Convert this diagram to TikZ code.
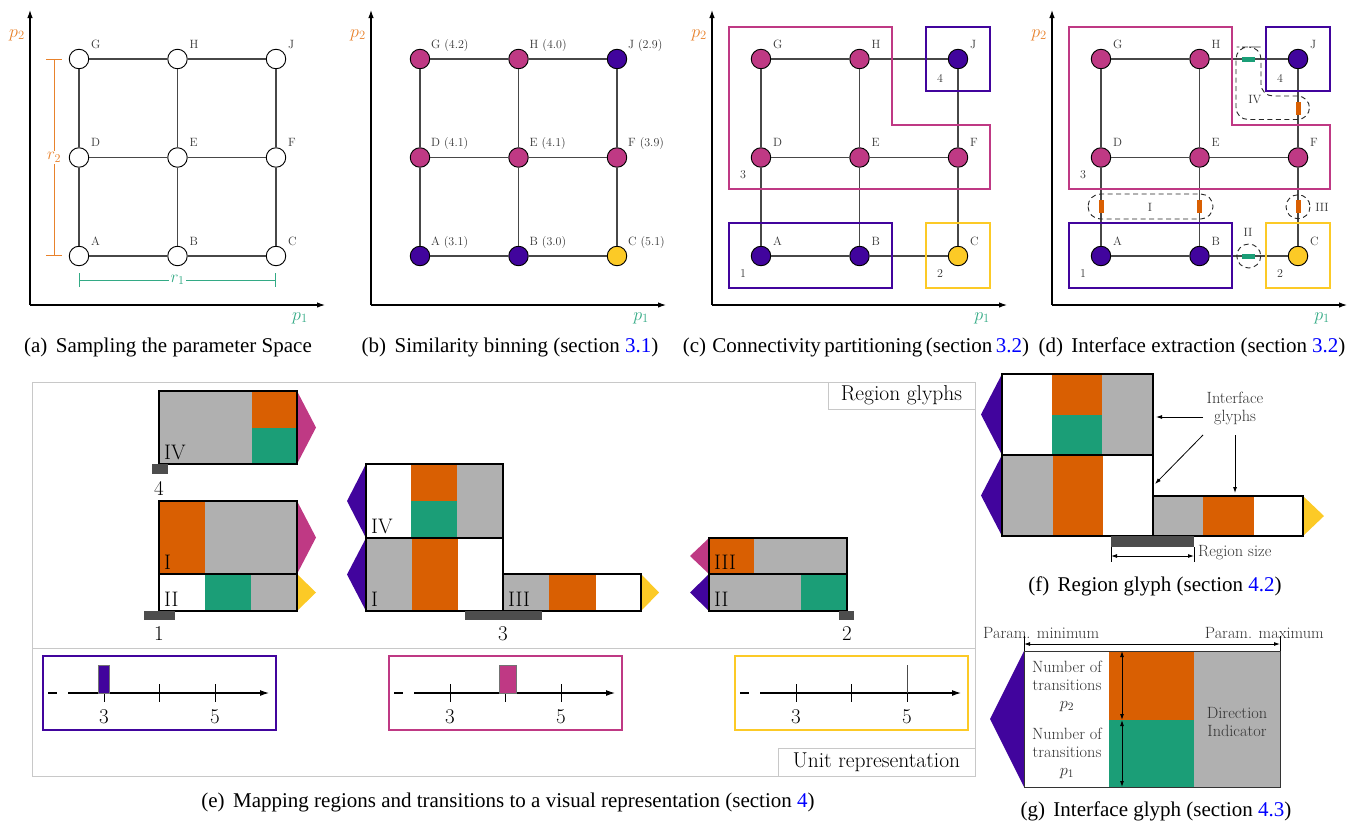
\RequirePackage{fix-cm}
\documentclass[tikz,border=0pt]{standalone}
\usepackage{fontspec}
\newfontfamily\capfont{Liberation Serif}
\usetikzlibrary{arrows.meta,calc}

\definecolor{cpur}{HTML}{41049D}
\definecolor{cmag}{HTML}{BF3984}
\definecolor{cyel}{HTML}{FCCA26}
\definecolor{corange}{HTML}{D95F02}
\definecolor{cgreen}{HTML}{1B9E77}
\definecolor{cgray}{HTML}{B0B0B0}
\definecolor{cbar}{HTML}{4D4D4D}
\definecolor{cframe}{HTML}{C8C8C8}
\definecolor{ctext}{HTML}{333333}
\definecolor{caxo}{HTML}{E8822C}
\definecolor{caxg}{HTML}{33AA85}

\begin{document}
\begin{tikzpicture}[x=1pt,y=-1pt,
  axisarrow/.style={line width=1.1pt,-{Latex[length=8pt,width=5.5pt]}},
  gnode/.style={circle,draw=black,line width=0.95pt,minimum size=19.5pt,inner sep=0pt},
  gedge/.style={draw=black!72,line width=1.2pt},
  nlab/.style={anchor=base west,inner sep=0pt,text=ctext,font=\fontsize{12}{14}\selectfont},
  axlab/.style={inner sep=0pt,font=\fontsize{18}{20}\selectfont},
  dimline/.style={line width=1pt},
  regbox/.style={line width=2pt},
  rlab/.style={inner sep=0pt,text=ctext,font=\fontsize{12}{14}\selectfont},
  tgh/.style={fill=cgreen,minimum width=13pt,minimum height=5pt,inner sep=0pt},
  tgv/.style={fill=corange,minimum width=5pt,minimum height=13pt,inner sep=0pt},
  ifdash/.style={draw=black!85,line width=0.9pt,dash pattern=on 5pt off 3.5pt},
  captxt/.style={anchor=base,inner sep=0pt,font=\capfont\fontsize{21}{25}\selectfont},
  gout/.style={draw=black,line width=1.8pt},
  fout/.style={draw=black,line width=1.3pt},
  glab/.style={anchor=base west,inner sep=0pt,font=\fontsize{21}{25}\selectfont},
  rnum/.style={inner sep=0pt,font=\fontsize{21}{25}\selectfont},
  sizebar/.style={fill=cbar},
  eframe/.style={draw=cframe,line width=1pt},
  tagbox/.style={draw=cframe,line width=1pt,fill=white,inner sep=0pt,font=\fontsize{21.5}{25}\selectfont},
  unitbox/.style={line width=1.9pt},
  uaxis/.style={line width=1.1pt},
  utick/.style={line width=0.6pt},
  ftext/.style={inner sep=0pt,text=ctext,font=\fontsize{16.3}{18}\selectfont},
  dimarrow/.style={line width=0.9pt,{Latex[length=6pt,width=4pt]}-{Latex[length=6pt,width=4pt]}},
  callarrow/.style={line width=0.8pt,-{Latex[length=6pt,width=4pt]}}
]
\useasboundingbox (0,0) rectangle (1359,823);

% ---------- panels (a)-(d): sampled parameter grids ----------
\foreach \pn/\x/\m in {a/30/1,b/371/2,c/712/3,d/1052/3}{
  \coordinate (\pn O) at (\x,305);
  \coordinate (\pn Y) at (\x,10);
  \coordinate (\pn X) at ({\x+295},305);
  \draw[axisarrow] (\pn O) -- (\pn Y);
  \draw[axisarrow] (\pn O) -- (\pn X);
  \node[axlab,text=caxo] (\pn ly) at ({\x-13},35) {$p_2$};
  \node[axlab,text=caxg] (\pn lx) at ({\x+270},318) {$p_1$};
  \foreach \n/\i/\j/\cl/\val in {A/0/0/cpur/3.1,B/1/0/cpur/3.0,C/2/0/cyel/5.1,
                                D/0/1/cmag/4.1,E/1/1/cmag/4.1,F/2/1/cmag/3.9,
                                G/0/2/cmag/4.2,H/1/2/cmag/4.0,J/2/2/cpur/2.9}{
    \ifnum\m=1 \def\fc{white}\else\edef\fc{\cl}\fi
    \node[gnode,fill=\fc] (\pn\n) at ({\x+49+98.5*\i},{256-98.5*\j}) {};
    \ifnum\m=2
      \node[nlab] (\pn\n l) at ({\x+60+98.5*\i},{245-98.5*\j}) {\n\ (\val)};
    \else
      \node[nlab] (\pn\n l) at ({\x+61+98.5*\i},{245-98.5*\j}) {\n};
    \fi
  }
  \foreach \s/\t in {A/B,B/C,D/E,E/F,G/H,H/J,A/D,D/G,B/E,E/H,C/F,F/J}
    \draw[gedge] (\pn\s) -- (\pn\t);
}

% sampling resolution r1, r2
\coordinate (r2t) at (54,59);
\coordinate (r2b) at (54,256);
\draw[dimline,draw=caxo,{Bar[width=16pt]}-{Bar[width=16pt]}] (r2t) -- (r2b)
  node[midway,fill=white,inner sep=2pt,text=caxo,font=\fontsize{17}{20}\selectfont] (r2l) {$r_2$};
\coordinate (r1l) at (79,280);
\coordinate (r1r) at (276,280);
\draw[dimline,draw=caxg,{Bar[width=14pt]}-{Bar[width=14pt]}] (r1l) -- (r1r)
  node[midway,fill=white,inner sep=2pt,text=caxg,font=\fontsize{17}{20}\selectfont] (r1t) {$r_1$};

% connected regions in (c) and (d)
\foreach \pn/\x in {c/712,d/1052}{
  \draw[regbox,draw=cmag] ({\x+16.5},27) -- ({\x+179.5},27) -- ({\x+179.5},125)
     -- ({\x+277.5},125) -- ({\x+277.5},189) -- ({\x+16.5},189) -- cycle;
  \draw[regbox,draw=cpur] ({\x+213.5},27) rectangle ({\x+277.5},91);
  \draw[regbox,draw=cpur] ({\x+16.5},223) rectangle ({\x+179.5},288);
  \draw[regbox,draw=cyel] ({\x+213.5},223) rectangle ({\x+277.5},288);
  \node[rlab] (\pn r3) at ({\x+31},175) {3};
  \node[rlab] (\pn r4) at ({\x+228},78) {4};
  \node[rlab] (\pn r1) at ({\x+31},274) {1};
  \node[rlab] (\pn r2) at ({\x+228},274) {2};
}

% interfaces in (d)
\node[tgh] (dgHJ) at ($(dH)!0.5!(dJ)$) {};
\node[tgh] (dgBC) at ($(dB)!0.5!(dC)$) {};
\node[tgv] (dgJF) at ($(dJ)!0.5!(dF)$) {};
\node[tgv] (dgDA) at ($(dD)!0.5!(dA)$) {};
\node[tgv] (dgEB) at ($(dE)!0.5!(dB)$) {};
\node[tgv] (dgFC) at ($(dF)!0.5!(dC)$) {};
\draw[ifdash,rounded corners=12] (1248.5,47) -- (1261,47) -- (1261,96) -- (1309.5,96)
   -- (1309.5,119.5) -- (1236,119.5) -- (1236,47) -- cycle;
\draw[ifdash,rounded corners=12.5] (1088,194) rectangle (1213,219);
\draw[ifdash] (dgFC.center) circle[radius=12];
\draw[ifdash] (dgBC.center) circle[radius=12];
\node[rlab] (lIV) at (1255,100) {IV};
\node[rlab] (lI) at (1150,207) {I};
\node[rlab] (lII) at (1248,232) {II};
\node[rlab] (lIII) at (1322,207) {III};

% captions of the top row
\node[captxt] (capa) at (168,352) {(a)\hspace{0.4em}Sampling the parameter Space};
\node[captxt] (capb) at (510,352) {(b)\hspace{0.4em}Similarity binning (section \textcolor{blue}{3.1})};
\node[captxt] (capc) at (856,352) {\spaceskip=3.5pt\relax(c)\hspace{0.3em}Connectivity partitioning (section \textcolor{blue}{3.2})};
\node[captxt] (capd) at (1192,352) {(d)\hspace{0.4em}Interface extraction (section \textcolor{blue}{3.2})};

% ---------- panel (e): region glyphs and unit representation ----------
\draw[eframe] (32,382) rectangle (975,776);
\draw[eframe] (32,648) -- (975,648);
\node[tagbox,minimum width=147pt,minimum height=27pt] (tagR) at (901.5,395.5) {Region glyphs};
\node[tagbox,minimum width=197pt,minimum height=28pt] (tagU) at (876.5,762) {Unit representation};

% region 4
\fill[cgray] (159,391) rectangle (252,464);
\fill[corange] (252,391) rectangle (297,428);
\fill[cgreen] (252,428) rectangle (297,464);
\fill[cmag] (297,391) -- (316,427.5) -- (297,464) -- cycle;
\draw[gout] (159,391) rectangle (297,464);
\node[glab] (g4a) at (164,459) {IV};
\fill[sizebar] (152,464) rectangle (168,474);
\node[rnum] (n4) at (159,488) {4};

% region 1
\fill[corange] (159,501) rectangle (205,574);
\fill[cgray] (205,501) rectangle (297,574);
\fill[cmag] (297,501) -- (316,537.5) -- (297,574) -- cycle;
\draw[gout] (159,501) rectangle (297,574);
\node[glab] (g1a) at (164,569) {I};
\fill[cgreen] (205,574) rectangle (251,611);
\fill[cgray] (251,574) rectangle (297,611);
\fill[cyel] (297,574) -- (316,592.5) -- (297,611) -- cycle;
\draw[gout] (159,574) rectangle (297,611);
\node[glab] (g1b) at (164,606) {II};
\fill[sizebar] (144,611) rectangle (175,620);
\node[rnum] (n1) at (159,634) {1};

% region 3
\fill[corange] (411,464) rectangle (457,501);
\fill[cgreen] (411,501) rectangle (457,538);
\fill[cgray] (457,464) rectangle (503,538);
\fill[cpur] (366,464) -- (347,501) -- (366,538) -- cycle;
\draw[gout] (366,464) rectangle (503,538);
\node[glab] (g3a) at (371,533) {IV};
\fill[cgray] (366,538) rectangle (412,611);
\fill[corange] (412,538) rectangle (458,611);
\fill[cpur] (366,538) -- (347,574.5) -- (366,611) -- cycle;
\draw[gout] (366,538) rectangle (503,611);
\node[glab] (g3b) at (371,606) {I};
\fill[cgray] (503,574) rectangle (549,611);
\fill[corange] (549,574) rectangle (596,611);
\fill[cyel] (641,574) -- (659,592.5) -- (641,611) -- cycle;
\draw[gout] (503,574) rectangle (641,611);
\node[glab] (g3c) at (508,606) {III};
\fill[sizebar] (465,611) rectangle (542,620);
\node[rnum] (n3) at (503,634) {3};

% region 2
\fill[corange] (709,538) rectangle (754,574);
\fill[cgray] (754,538) rectangle (847,574);
\fill[cmag] (709,538) -- (690,556) -- (709,574) -- cycle;
\draw[gout] (709,538) rectangle (847,574);
\node[glab] (g2a) at (714,569) {III};
\fill[cgray] (709,574) rectangle (801,611);
\fill[cgreen] (801,574) rectangle (847,611);
\fill[cpur] (709,574) -- (690,592.5) -- (709,611) -- cycle;
\draw[gout] (709,574) rectangle (847,611);
\node[glab] (g2b) at (714,606) {II};
\fill[sizebar] (839,611) rectangle (854,620);
\node[rnum] (n2) at (847,634) {2};

% unit representation of the three value ranges
\foreach \L/\col in {43/cpur,389/cmag,735/cyel}{
  \draw[unitbox,draw=\col] (\L,656) rectangle ({\L+233},730);
  \draw[uaxis] ({\L+5},693) -- ({\L+14},693);
  \draw[uaxis,-{Latex[length=9pt,width=6pt]}] ({\L+25},693) -- ({\L+226},693);
  \foreach \t in {61,116.5,172}
    \draw[utick] ({\L+\t},684) -- ({\L+\t},702);
  \node[rnum] at ({\L+61},717) {3};
  \node[rnum] at ({\L+172},717) {5};
}
\filldraw[fill=cpur,draw=black!55,line width=0.5pt] (98.5,665) rectangle (109.5,693);
\filldraw[fill=cmag,draw=black!55,line width=0.5pt] (499.5,665) rectangle (516,693);
\draw[line width=0.8pt,draw=black!70] (907.5,665) -- (907.5,693);

\node[captxt] (cape) at (508,807) {(e)\hspace{0.4em}Mapping regions and transitions to a visual representation (section \textcolor{blue}{4})};

% ---------- panel (f): region glyph ----------
\fill[corange] (1052,374) rectangle (1102,415);
\fill[cgreen] (1052,415) rectangle (1102,455);
\fill[cgray] (1102,374) rectangle (1153,455);
\fill[cpur] (1002,374) -- (981,414.5) -- (1002,455) -- cycle;
\draw[fout] (1002,374) rectangle (1153,455);
\fill[cgray] (1002,455) rectangle (1053,536);
\fill[corange] (1053,455) rectangle (1103,536);
\fill[cpur] (1002,455) -- (981,495.5) -- (1002,536) -- cycle;
\draw[fout] (1002,455) rectangle (1153,536);
\fill[cgray] (1153,496) rectangle (1203,536);
\fill[corange] (1203,496) rectangle (1254,536);
\fill[cyel] (1303,496) -- (1324,516) -- (1303,536) -- cycle;
\draw[fout] (1153,496) rectangle (1303,536);
\fill[sizebar] (1111,536) rectangle (1194,547);
\draw[line width=0.6pt] (1111,547) -- (1111,562);
\draw[line width=0.6pt] (1194,547) -- (1194,562);
\coordinate (rsl) at (1111,556);
\coordinate (rsr) at (1194,556);
\draw[dimarrow] (rsl) -- (rsr);
\node[ftext,anchor=west] (rsize) at (1198,553) {Region size};
\node[ftext,align=center] (ig) at (1235,408) {Interface\\glyphs};
\coordinate (igA) at (1203,417);
\coordinate (igB) at (1203,435);
\coordinate (igC) at (1235,435);
\coordinate (tA) at (1156,417);
\coordinate (tB) at (1155,484);
\coordinate (tC) at (1235,493);
\draw[callarrow] (igA) -- (tA);
\draw[callarrow] (igB) -- (tB);
\draw[callarrow] (igC) -- (tC);
\node[captxt] (capf) at (1155,591) {(f)\hspace{0.4em}Region glyph (section \textcolor{blue}{4.2})};

% ---------- panel (g): interface glyph ----------
\node[ftext,anchor=base west] (pmin) at (983,638) {Param. minimum};
\node[ftext,anchor=base east] (pmax) at (1324,638) {Param. maximum};
\fill[white] (1024,651) rectangle (1109,787);
\fill[corange] (1109,651) rectangle (1194,720);
\fill[cgreen] (1109,720) rectangle (1194,787);
\fill[cgray] (1194,651) rectangle (1280,787);
\fill[cpur] (1024,651) -- (990,719) -- (1024,787) -- cycle;
\draw[line width=1pt,draw=black!80] (1024,651) rectangle (1280,787);
\draw[line width=0.6pt] (1024,636) -- (1024,651);
\draw[line width=0.6pt] (1280,636) -- (1280,651);
\coordinate (gl) at (1024,644);
\coordinate (gr) at (1280,644);
\draw[dimarrow] (gl) -- (gr);
\coordinate (vt) at (1122,651);
\coordinate (vm) at (1122,720);
\coordinate (vb) at (1122,787);
\draw[dimarrow] (vt) -- (vm);
\draw[dimarrow] (vm) -- (vb);
\node[ftext,align=center] (ntp2) at (1067,686) {Number of\\transitions\\$p_2$};
\node[ftext,align=center] (ntp1) at (1067,753) {Number of\\transitions\\$p_1$};
\node[ftext,align=center] (dind) at (1237,722) {Direction\\Indicator};
\node[captxt] (capg) at (1156,816) {(g)\hspace{0.4em}Interface glyph (section \textcolor{blue}{4.3})};
\end{tikzpicture}
\end{document}
